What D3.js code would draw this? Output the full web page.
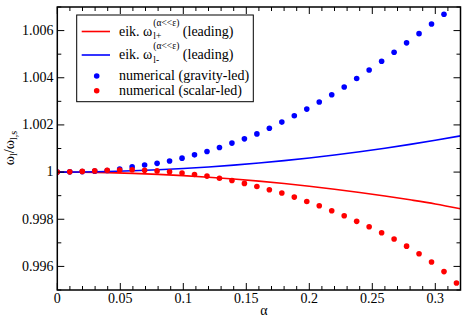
<!DOCTYPE html>
<html><head><meta charset="utf-8">
<script src="https://cdn.jsdelivr.net/npm/d3@7"></script>
<style>
body{margin:0;background:#fff}
#wrap{position:relative;width:463px;height:317px;overflow:hidden;color:#000}
#wrap, #wrap *, #wrap text, .lbl{font-family:'Liberation Serif','Times New Roman',Tinos,serif !important}
#wrap svg{position:absolute;left:0;top:0;display:block}
.lbl{position:absolute;white-space:nowrap}
</style>
</head><body><div id="wrap"><svg id="c" width="463" height="317"></svg></div>
<script>
const xTicks = [0, 0.05, 0.1, 0.15, 0.2, 0.25, 0.3];
const xTickLabels = ["0", "0.05", "0.1", "0.15", "0.2", "0.25", "0.3"];
const yTicks = [0.996, 0.998, 1.000, 1.002, 1.004, 1.006];
const yTickLabels = ["0.996", "0.998", "1", "1.002", "1.004", "1.006"];

const dotAlpha = [0, 0.0099, 0.0198, 0.0297, 0.0396, 0.0495, 0.0594, 0.0693, 0.0792, 0.0891,
  0.099, 0.1089, 0.1188, 0.1287, 0.1386, 0.1485, 0.1584, 0.1683, 0.1782, 0.1881,
  0.198, 0.2079, 0.2178, 0.2277, 0.2376, 0.2475, 0.2574, 0.2673, 0.2772, 0.2871,
  0.297, 0.3069, 0.3168];
const gravityLed = [1.00000, 1.00001, 1.00002, 1.00004, 1.00007, 1.00013, 1.00022, 1.00030, 1.00037, 1.00047,
  1.00059, 1.00073, 1.00087, 1.00104, 1.00123, 1.00141, 1.00162, 1.00186, 1.00212, 1.00239,
  1.00267, 1.00297, 1.00328, 1.00361, 1.00397, 1.00433, 1.00470, 1.00508, 1.00548, 1.00587,
  1.00628, 1.00669];
const scalarLed = [1.00000, 1.00001, 1.00003, 1.00005, 1.00008, 1.00009, 1.00010, 1.00008, 1.00005, 1.00001,
  0.99996, 0.99990, 0.99983, 0.99974, 0.99964, 0.99952, 0.99939, 0.99925, 0.99911, 0.99894,
  0.99875, 0.99857, 0.99836, 0.99815, 0.99791, 0.99768, 0.99743, 0.99716, 0.99686, 0.99654,
  0.99619, 0.99578, 0.99530];

const lineAlpha = [0, 0.02, 0.04, 0.06, 0.08, 0.10, 0.12, 0.14, 0.16, 0.18, 0.20, 0.22, 0.24, 0.26, 0.28, 0.30, 0.32];
const eikMinus = [1, 1.000006, 1.000024, 1.000054, 1.000096, 1.00015, 1.000216, 1.000294, 1.000384, 1.000486,
  1.0006, 1.000726, 1.000864, 1.001014, 1.001176, 1.00135, 1.001536];
const eikPlus = [1, 0.999994, 0.999976, 0.999946, 0.999904, 0.99985, 0.999784, 0.999706, 0.999616, 0.999514,
  0.9994, 0.999274, 0.999136, 0.998986, 0.998824, 0.99865, 0.998444];

const FONT = "'Liberation Serif','Times New Roman',Tinos,serif";
const L = 57.3, R = 460.5, T = 7, B = 290;
const wrap = d3.select("#wrap");
const svg = d3.select("#c");
const x = d3.scaleLinear().domain([0, 0.32]).range([L, R]);
const y = d3.scaleLinear().domain([0.995, 1.007]).range([B, T]);

// HTML text label placed by its baseline
function label(txt, lx, base, fs, anchor) {
  const d = wrap.append("div").attr("class", "lbl")
    .style("font-family", FONT, "important")
    .style("left", lx + "px").style("top", (base - 0.8375 * fs) + "px")
    .style("font-size", fs + "px").style("line-height", fs + "px").text(txt);
  if (anchor === "middle") d.style("transform", "translateX(-50%)");
  if (anchor === "end") d.style("transform", "translateX(-100%)");
  return d;
}

svg.append("defs").append("clipPath").attr("id", "clip")
  .append("rect").attr("x", L).attr("y", T).attr("width", R - L).attr("height", B - T);

const plot = svg.append("g").attr("clip-path", "url(#clip)");
const line = d3.line().x((d, i) => x(lineAlpha[i])).y(d => y(d)).curve(d3.curveMonotoneX);
plot.append("path").attr("d", line(eikPlus)).attr("fill", "none").attr("stroke", "#ff0000").attr("stroke-width", 1.6);
plot.append("path").attr("d", line(eikMinus)).attr("fill", "none").attr("stroke", "#0000ff").attr("stroke-width", 1.6);
plot.selectAll(".gd").data(gravityLed).enter().append("circle")
  .attr("cx", (d, i) => x(dotAlpha[i])).attr("cy", d => y(d)).attr("r", 2.8).attr("fill", "#0000ff");
plot.selectAll(".sd").data(scalarLed).enter().append("circle")
  .attr("cx", (d, i) => x(dotAlpha[i])).attr("cy", d => y(d)).attr("r", 2.8).attr("fill", "#ff0000");

// axes with inward ticks on all sides
const xMinor = d3.range(0, 0.3201, 0.01);
const yMinor = d3.range(0.995, 1.00701, 0.001);
const axG = svg.append("g").attr("stroke", "#000").attr("stroke-width", 1);
xMinor.forEach(v => {
  const major = xTicks.some(t => Math.abs(t - v) < 1e-6);
  const len = major ? 7 : 4;
  axG.append("line").attr("x1", x(v)).attr("x2", x(v)).attr("y1", B).attr("y2", B - len);
  axG.append("line").attr("x1", x(v)).attr("x2", x(v)).attr("y1", T).attr("y2", T + len);
});
yMinor.forEach(v => {
  const major = yTicks.some(t => Math.abs(t - v) < 1e-7);
  const len = major ? 7 : 4;
  axG.append("line").attr("y1", y(v)).attr("y2", y(v)).attr("x1", L).attr("x2", L + len);
  axG.append("line").attr("y1", y(v)).attr("y2", y(v)).attr("x1", R).attr("x2", R - len);
});
svg.append("rect").attr("x", L).attr("y", T).attr("width", R - L).attr("height", B - T)
  .attr("fill", "none").attr("stroke", "#000").attr("stroke-width", 1.5);

xTicks.forEach((d, i) => label(xTickLabels[i], x(d), 304, 14, "middle"));
yTicks.forEach((d, i) => label(yTickLabels[i], 53.5, y(d) + 5, 14, "end"));
label("α", 264, 315.5, 14, "middle");

// y axis title, rotated
const yt = wrap.append("div").attr("class", "lbl").style("font-family", FONT, "important")
  .style("left", "12px").style("top", "148px").style("font-size", "14px").style("line-height", "14px")
  .style("transform", "translate(-50%,-50%) rotate(-90deg)");
yt.append("span").text("ω");
yt.append("span").style("font-size", "10px").style("vertical-align", "-3px").text("l");
yt.append("span").text("/ω");
yt.append("span").style("font-size", "10px").style("vertical-align", "-3px").text("l,s");

// legend
svg.append("rect").attr("x", 76.7).attr("y", 15).attr("width", 176.6).attr("height", 86.7)
  .attr("fill", "#fff").attr("stroke", "#000").attr("stroke-width", 1);
const legendLines = [{c: "#ff0000", sub: "l+", cy: 31.5}, {c: "#0000ff", sub: "l-", cy: 55}];
legendLines.forEach(e => {
  svg.append("line").attr("x1", 81.7).attr("x2", 110).attr("y1", e.cy).attr("y2", e.cy)
    .attr("stroke", e.c).attr("stroke-width", 1.6);
  const t1 = label("eik. ω", 119, e.cy + 5, 14);
  const w1 = t1.node().getBoundingClientRect().width;
  const sx = 119 + w1 + 1;
  const sup = label("(α<<ε)", sx, e.cy - 5, 9.5);
  label(e.sub, sx, e.cy + 8.5, 9.5);
  const ws = sup.node().getBoundingClientRect().width;
  label("(leading)", sx + ws + 3.5, e.cy + 5, 14);
});
const legendDots = [{c: "#0000ff", t: "numerical (gravity-led)", cy: 76}, {c: "#ff0000", t: "numerical (scalar-led)", cy: 90.7}];
legendDots.forEach(e => {
  svg.append("circle").attr("cx", 96.7).attr("cy", e.cy).attr("r", 2.8).attr("fill", e.c);
  label(e.t, 119, e.cy + 5, 14);
});
</script></body></html>
